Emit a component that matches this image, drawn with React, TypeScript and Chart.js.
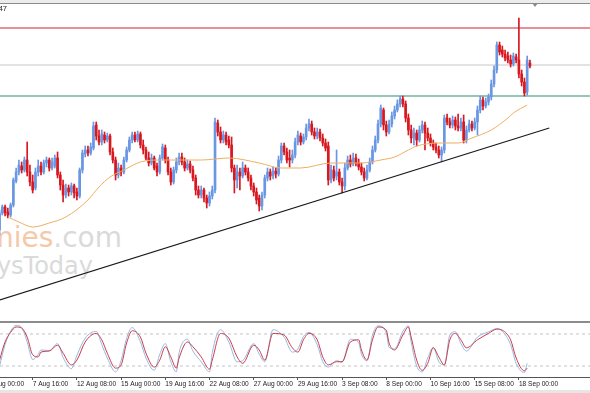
import React, { useEffect, useRef } from "react";
import { Chart, registerables } from "chart.js";
Chart.register(...registerables);

// ---- x axis (H4 bars, one label every 16 bars) ----
const tickLabels = [
  "5 Aug 00:00", "7 Aug 16:00", "12 Aug 08:00", "15 Aug 00:00", "19 Aug 16:00",
  "22 Aug 08:00", "27 Aug 00:00", "29 Aug 16:00", "3 Sep 08:00", "8 Sep 00:00",
  "10 Sep 16:00", "15 Sep 08:00", "18 Sep 00:00",
];
const BARS_PER_LABEL = 16;
const FIRST_BAR = 4;
const X_MIN = 4.163;
const X_MAX = 217.738;

// ---- candles (bar FIRST_BAR onward) ----
const open = [
  1.1170,1.1187,1.1193,1.1188,1.1185,1.1195,1.1219,1.1228,1.1234,1.1230,
  1.1240,1.1228,1.1218,1.1212,1.1228,1.1234,1.1228,1.1237,1.1240,1.1232,
  1.1234,1.1242,1.1225,1.1215,1.1205,1.1212,1.1208,1.1214,1.1208,1.1204,
  1.1230,1.1246,1.1250,1.1247,1.1252,1.1275,1.1264,1.1258,1.1265,1.1260,
  1.1264,1.1248,1.1240,1.1225,1.1232,1.1228,1.1240,1.1250,1.1260,1.1265,
  1.1260,1.1266,1.1255,1.1250,1.1242,1.1237,1.1242,1.1234,1.1228,1.1242,
  1.1252,1.1240,1.1228,1.1218,1.1230,1.1238,1.1243,1.1238,1.1232,1.1236,
  1.1230,1.1222,1.1210,1.1205,1.1210,1.1202,1.1197,1.1204,1.1210,1.1277,
  1.1268,1.1260,1.1265,1.1260,1.1255,1.1232,1.1220,1.1228,1.1224,1.1232,
  1.1228,1.1222,1.1214,1.1208,1.1202,1.1194,1.1205,1.1222,1.1228,1.1224,
  1.1229,1.1226,1.1240,1.1254,1.1248,1.1242,1.1240,1.1245,1.1258,1.1264,
  1.1258,1.1263,1.1272,1.1276,1.1268,1.1264,1.1268,1.1262,1.1257,1.1254,
  1.1220,1.1230,1.1224,1.1228,1.1218,1.1214,1.1232,1.1240,1.1236,1.1242,
  1.1237,1.1233,1.1228,1.1222,1.1230,1.1238,1.1250,1.1260,1.1276,1.1290,
  1.1275,1.1268,1.1276,1.1284,1.1290,1.1296,1.1301,1.1296,1.1282,1.1270,
  1.1262,1.1267,1.1260,1.1270,1.1275,1.1267,1.1262,1.1257,1.1253,1.1250,
  1.1245,1.1250,1.1282,1.1278,1.1275,1.1280,1.1274,1.1272,1.1278,1.1260,
  1.1270,1.1276,1.1272,1.1278,1.1290,1.1300,1.1294,1.1298,1.1303,1.1316,
  1.1330,1.1355,1.1350,1.1346,1.1344,1.1340,1.1336,1.1343,1.1340,1.1326,
  1.1318,1.1308,1.1337,
];
const close = [
  1.1187,1.1193,1.1187,1.1185,1.1195,1.1220,1.1228,1.1235,1.1230,1.1240,
  1.1228,1.1218,1.1210,1.1228,1.1234,1.1228,1.1237,1.1240,1.1232,1.1238,
  1.1242,1.1225,1.1215,1.1205,1.1212,1.1208,1.1214,1.1207,1.1204,1.1230,
  1.1247,1.1250,1.1247,1.1253,1.1274,1.1264,1.1258,1.1266,1.1260,1.1264,
  1.1248,1.1240,1.1225,1.1232,1.1228,1.1240,1.1250,1.1260,1.1265,1.1260,
  1.1266,1.1255,1.1250,1.1242,1.1237,1.1242,1.1232,1.1228,1.1242,1.1253,
  1.1240,1.1228,1.1218,1.1230,1.1238,1.1243,1.1238,1.1232,1.1236,1.1230,
  1.1222,1.1210,1.1205,1.1210,1.1202,1.1197,1.1204,1.1210,1.1278,1.1268,
  1.1260,1.1265,1.1258,1.1255,1.1232,1.1220,1.1228,1.1224,1.1232,1.1228,
  1.1222,1.1214,1.1208,1.1200,1.1194,1.1205,1.1222,1.1228,1.1224,1.1229,
  1.1226,1.1240,1.1254,1.1248,1.1240,1.1240,1.1245,1.1258,1.1265,1.1258,
  1.1263,1.1272,1.1276,1.1268,1.1264,1.1268,1.1262,1.1257,1.1252,1.1220,
  1.1230,1.1222,1.1228,1.1218,1.1214,1.1232,1.1240,1.1236,1.1242,1.1237,
  1.1233,1.1228,1.1222,1.1230,1.1238,1.1250,1.1260,1.1276,1.1292,1.1275,
  1.1268,1.1276,1.1284,1.1290,1.1296,1.1301,1.1296,1.1282,1.1270,1.1262,
  1.1267,1.1260,1.1270,1.1275,1.1267,1.1262,1.1257,1.1253,1.1250,1.1245,
  1.1250,1.1282,1.1278,1.1275,1.1280,1.1274,1.1272,1.1278,1.1260,1.1270,
  1.1276,1.1272,1.1278,1.1290,1.1300,1.1294,1.1298,1.1303,1.1316,1.1330,
  1.1355,1.1348,1.1346,1.1342,1.1340,1.1336,1.1344,1.1340,1.1326,1.1318,
  1.1307,1.1340,1.1334,
];
const high = [
  1.1190,1.1195,1.1195,1.1192,1.1197,1.1222,1.1232,1.1240,1.1238,1.1243,
  1.1258,1.1235,1.1225,1.1232,1.1240,1.1238,1.1240,1.1243,1.1242,1.1242,
  1.1245,1.1248,1.1228,1.1220,1.1216,1.1215,1.1217,1.1216,1.1212,1.1232,
  1.1250,1.1254,1.1254,1.1257,1.1278,1.1278,1.1270,1.1270,1.1268,1.1267,
  1.1266,1.1252,1.1243,1.1237,1.1235,1.1243,1.1253,1.1263,1.1268,1.1268,
  1.1269,1.1268,1.1260,1.1253,1.1248,1.1246,1.1244,1.1237,1.1245,1.1256,
  1.1255,1.1243,1.1232,1.1233,1.1242,1.1247,1.1247,1.1242,1.1240,1.1239,
  1.1234,1.1225,1.1214,1.1214,1.1212,1.1205,1.1208,1.1214,1.1282,1.1280,
  1.1273,1.1269,1.1268,1.1264,1.1263,1.1235,1.1235,1.1232,1.1238,1.1235,
  1.1232,1.1225,1.1217,1.1212,1.1205,1.1208,1.1225,1.1232,1.1231,1.1233,
  1.1232,1.1244,1.1257,1.1257,1.1252,1.1250,1.1250,1.1262,1.1269,1.1267,
  1.1266,1.1276,1.1281,1.1279,1.1272,1.1272,1.1271,1.1266,1.1261,1.1258,
  1.1235,1.1234,1.1250,1.1231,1.1222,1.1237,1.1244,1.1245,1.1247,1.1246,
  1.1241,1.1237,1.1232,1.1235,1.1242,1.1254,1.1264,1.1280,1.1295,1.1292,
  1.1279,1.1280,1.1288,1.1294,1.1300,1.1304,1.1304,1.1299,1.1286,1.1275,
  1.1272,1.1270,1.1274,1.1279,1.1278,1.1272,1.1266,1.1260,1.1257,1.1254,
  1.1253,1.1285,1.1286,1.1282,1.1284,1.1283,1.1286,1.1282,1.1285,1.1274,
  1.1280,1.1279,1.1282,1.1294,1.1304,1.1303,1.1302,1.1306,1.1320,1.1334,
  1.1358,1.1358,1.1354,1.1350,1.1348,1.1345,1.1347,1.1346,1.1382,1.1330,
  1.1322,1.1344,1.1340,
];
const low = [
  1.1165,1.1185,1.1184,1.1182,1.1183,1.1193,1.1217,1.1225,1.1227,1.1228,
  1.1224,1.1214,1.1207,1.1210,1.1224,1.1225,1.1226,1.1233,1.1229,1.1230,
  1.1232,1.1222,1.1210,1.1198,1.1202,1.1204,1.1205,1.1202,1.1200,1.1202,
  1.1227,1.1243,1.1244,1.1245,1.1250,1.1260,1.1255,1.1255,1.1257,1.1258,
  1.1245,1.1237,1.1220,1.1222,1.1224,1.1226,1.1238,1.1248,1.1257,1.1258,
  1.1258,1.1252,1.1246,1.1240,1.1234,1.1235,1.1230,1.1224,1.1226,1.1240,
  1.1237,1.1225,1.1215,1.1216,1.1227,1.1235,1.1235,1.1229,1.1230,1.1227,
  1.1219,1.1205,1.1202,1.1202,1.1198,1.1192,1.1194,1.1201,1.1207,1.1264,
  1.1257,1.1257,1.1255,1.1252,1.1228,1.1207,1.1212,1.1210,1.1222,1.1225,
  1.1219,1.1210,1.1204,1.1196,1.1189,1.1190,1.1202,1.1219,1.1220,1.1221,
  1.1222,1.1224,1.1237,1.1245,1.1237,1.1233,1.1237,1.1242,1.1255,1.1255,
  1.1256,1.1260,1.1269,1.1265,1.1261,1.1261,1.1259,1.1254,1.1249,1.1215,
  1.1217,1.1219,1.1220,1.1215,1.1207,1.1210,1.1230,1.1233,1.1234,1.1234,
  1.1230,1.1225,1.1219,1.1220,1.1228,1.1236,1.1248,1.1257,1.1273,1.1270,
  1.1264,1.1266,1.1273,1.1281,1.1288,1.1293,1.1293,1.1278,1.1265,1.1257,
  1.1255,1.1254,1.1258,1.1267,1.1250,1.1259,1.1254,1.1250,1.1247,1.1242,
  1.1238,1.1247,1.1275,1.1272,1.1272,1.1270,1.1269,1.1269,1.1257,1.1257,
  1.1268,1.1269,1.1270,1.1265,1.1287,1.1290,1.1292,1.1295,1.1300,1.1313,
  1.1327,1.1345,1.1343,1.1339,1.1337,1.1333,1.1334,1.1337,1.1322,1.1314,
  1.1304,1.1305,1.1332,
];

// ---- overlays on the price window ----
const maBars = [7, 11, 16, 22, 28, 36, 40, 44, 49, 55, 62, 69, 77, 87, 98, 106, 113, 124, 135, 142, 147, 152, 155, 164, 170, 175, 182, 188, 190, 195];
const maValues = [1.1183, 1.1178, 1.1173, 1.1177, 1.1183, 1.1200, 1.1213, 1.1223, 1.1230, 1.1238, 1.1240, 1.1240, 1.1240, 1.1242, 1.1237, 1.1232, 1.1232, 1.1237, 1.1237, 1.1240, 1.1243, 1.1250, 1.1254, 1.1257, 1.1257, 1.1262, 1.1270, 1.1282, 1.1287, 1.1295];
const trendBars = [4, 203];
const trendValues = [1.1100, 1.1272];
const resistanceLevel = 1.1372;
const currentLevel = 1.1335;
const supportLevel = 1.1304;

// ---- stochastic oscillator ----
const stochBars = [4, 6, 8, 10, 12, 14, 16, 18, 19, 22, 25, 27, 30, 32, 35, 39, 41, 43, 46, 48, 50, 52, 55, 57, 60, 62, 64, 66, 68, 69, 72, 74, 77, 80, 81, 84, 87, 90, 92, 96, 98, 100, 103, 107, 110, 112, 114, 116, 119, 121, 123, 126, 128, 131, 134, 135, 137, 139, 141, 144, 145, 147, 150, 152, 153, 155, 157, 159, 161, 163, 165, 167, 169, 171, 173, 177, 181, 184, 186, 189, 191, 194, 195];
const stochMain = [20, 60, 85, 96, 92, 65, 32, 42, 50, 49, 62, 36, 15, 40, 72, 85, 60, 35, 9, 30, 72, 92, 65, 35, 12, 42, 62, 28, 9, 45, 70, 48, 28, 9, 45, 88, 65, 28, 30, 62, 42, 28, 88, 74, 46, 52, 75, 83, 60, 28, 18, 30, 27, 70, 64, 42, 30, 78, 95, 82, 55, 52, 85, 95, 65, 20, 9, 35, 55, 28, 22, 78, 84, 62, 48, 74, 84, 90, 85, 60, 25, 8, 25];
const stochSignal = [31, 65, 83, 93, 91, 74, 41, 37, 46, 48, 59, 44, 22, 31, 65, 81, 69, 44, 16, 22, 63, 86, 74, 44, 18, 31, 56, 37, 16, 35, 65, 56, 37, 14, 31, 81, 72, 37, 25, 59, 50, 31, 81, 78, 54, 46, 69, 81, 69, 37, 22, 28, 28, 65, 69, 50, 31, 69, 93, 87, 63, 50, 78, 93, 74, 31, 12, 25, 54, 37, 22, 69, 81, 69, 54, 69, 81, 89, 87, 69, 35, 11, 16];
const stochLevels = [80, 20];

const BULL = "#6a97e4";
const BEAR = "#d8171f";

function hline(value: number, color: string, width: number, dash: number[] = []) {
  return {
    type: "line" as const,
    data: [{ x: X_MIN, y: value }, { x: X_MAX, y: value }],
    borderColor: color,
    borderWidth: width,
    borderDash: dash,
    pointRadius: 0,
    order: 10,
  };
}

export default function App() {
  const mainRef = useRef<HTMLCanvasElement | null>(null);
  const subRef = useRef<HTMLCanvasElement | null>(null);

  useEffect(() => {
    const bars = open.map((_, k) => FIRST_BAR + k);
    const colors = bars.map((_, k) => (close[k] >= open[k] ? BULL : BEAR));

    const main = new Chart(mainRef.current!, {
      type: "bar",
      data: {
        datasets: [
          hline(resistanceLevel, "#e06a74", 1.5),
          hline(currentLevel, "#c6c6c6", 1),
          hline(supportLevel, "#72b49e", 1.5),
          {
            type: "bar",
            label: "wick",
            data: bars.map((b, k) => ({ x: b, y: [low[k], high[k]] })),
            backgroundColor: colors,
            barThickness: 1,
            grouped: false,
            order: 4,
          } as any,
          {
            type: "bar",
            label: "body",
            data: bars.map((b, k) => ({ x: b, y: [open[k], close[k]] })),
            backgroundColor: colors,
            barThickness: 2,
            grouped: false,
            order: 3,
          } as any,
          {
            type: "line",
            label: "MA",
            data: maBars.map((b, k) => ({ x: b, y: maValues[k] })),
            borderColor: "#eeae63",
            borderWidth: 1,
            pointRadius: 0,
            cubicInterpolationMode: "monotone",
            order: 2,
          },
          {
            type: "line",
            label: "trend",
            data: trendBars.map((b, k) => ({ x: b, y: trendValues[k] })),
            borderColor: "#1a1a1a",
            borderWidth: 1.2,
            pointRadius: 0,
            order: 1,
          },
        ],
      },
      options: {
        animation: false,
        responsive: false,
        events: [],
        layout: { padding: 0 },
        plugins: { legend: { display: false }, tooltip: { enabled: false } },
        scales: {
          x: { type: "linear", min: X_MIN, max: X_MAX, offset: false, display: false },
          y: { type: "linear", min: 1.1078, max: 1.1396, display: false },
        },
      },
    });

    const sub = new Chart(subRef.current!, {
      type: "line",
      data: {
        datasets: [
          ...stochLevels.map((v) => hline(v, "#c4c4c4", 1, [3, 3])),
          {
            label: "%K",
            data: stochBars.map((b, k) => ({ x: b, y: stochMain[k] })),
            borderColor: "#94b9e0",
            borderWidth: 1,
            pointRadius: 0,
            cubicInterpolationMode: "monotone",
            order: 2,
          },
          {
            label: "%D",
            data: stochBars.map((b, k) => ({ x: b, y: stochSignal[k] })),
            borderColor: "#cc3a48",
            borderWidth: 1,
            pointRadius: 0,
            cubicInterpolationMode: "monotone",
            order: 1,
          },
        ],
      },
      options: {
        animation: false,
        responsive: false,
        events: [],
        layout: { padding: 0 },
        plugins: { legend: { display: false }, tooltip: { enabled: false } },
        scales: {
          x: {
            type: "linear",
            min: X_MIN,
            max: X_MAX,
            offset: false,
            position: "bottom",
            afterBuildTicks: (scale: any) => {
              scale.ticks = tickLabels.map((_, k) => ({ value: k * BARS_PER_LABEL }));
            },
            afterFit: (scale: any) => {
              scale.height = 16;
              scale.paddingLeft = 0;
              scale.paddingRight = 0;
            },
            ticks: {
              autoSkip: false,
              maxRotation: 0,
              minRotation: 0,
              align: "start",
              padding: 0,
              color: "#222",
              font: { family: "Liberation Sans", size: 6.6 },
              callback: (_v: any, i: number) => tickLabels[i],
            },
            grid: { drawOnChartArea: false, drawTicks: true, tickLength: 3, color: "#555" },
            border: { display: true, color: "#555", width: 1 },
          },
          y: { type: "linear", min: -0.6, max: 100.5, display: false },
        },
      },
    });

    return () => {
      main.destroy();
      sub.destroy();
    };
  }, []);

  return (
    <div style={{ position: "fixed", left: 0, top: 0, width: 590, height: 393, overflow: "hidden", background: "#fff" }}>
      {/* watermark */}
      <div style={{ position: "absolute", right: 468, top: 224, font: "28px 'DejaVu Sans'", lineHeight: "28px", whiteSpace: "nowrap" }}>
        <span style={{ color: "#f5c9a8" }}>Economies</span>
        <span style={{ color: "#dadada" }}>.com</span>
      </div>
      <div style={{ position: "absolute", right: 497, top: 254, font: "24px 'DejaVu Sans'", lineHeight: "24px", whiteSpace: "nowrap", color: "#dadada" }}>
        AlwaysToday
      </div>
      <canvas ref={mainRef} width={590} height={318} style={{ position: "absolute", left: 0, top: 4 }} />
      <canvas ref={subRef} width={590} height={70} style={{ position: "absolute", left: 0, top: 323 }} />
      {/* window frame */}
      <div style={{ position: "absolute", left: 0, top: 0, width: 590, height: 3, background: "#ececec" }} />
      <div style={{ position: "absolute", left: 0, top: 3, width: 590, height: 1, background: "#8a8a8a" }} />
      <div style={{ position: "absolute", left: 532, top: 3, width: 0, height: 0, borderLeft: "3px solid transparent", borderRight: "3px solid transparent", borderTop: "4px solid #8a8a8a" }} />
      <div style={{ position: "absolute", right: 583, top: 5, font: "7.5px 'Liberation Sans'", lineHeight: "8px", color: "#222", whiteSpace: "nowrap" }}>
        EURUSD,H4 1.1247
      </div>
      <div style={{ position: "absolute", left: 0, top: 321, width: 590, height: 2, background: "#8c8c8c" }} />
      <div style={{ position: "absolute", left: 0, top: 390, width: 590, height: 3, background: "#e6e6e6" }} />
    </div>
  );
}
